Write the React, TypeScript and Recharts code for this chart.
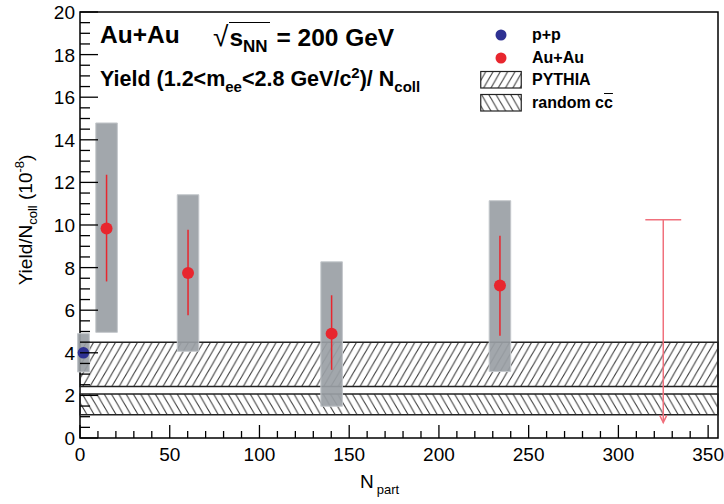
import React from 'react';
import {
  ComposedChart,
  XAxis,
  YAxis,
  Scatter,
  ErrorBar,
  ReferenceArea,
  ReferenceLine,
  ReferenceDot,
  Legend,
} from 'recharts';

const FONT = '"Liberation Sans", Arial, Helvetica, sans-serif';

// ---- data ----
// p+p reference point
const ppNpart = [1.9];
const ppYield = [4.0];
const ppSysLow = [3.1];
const ppSysHigh = [4.9];

// Au+Au centrality bins
const auNpart = [14.8, 60.2, 140.2, 234.0];
const auYield = [9.84, 7.75, 4.9, 7.16];
const auStatLow = [7.35, 5.76, 3.2, 4.8];
const auStatHigh = [12.36, 9.78, 6.7, 9.5];
const auSysLow = [4.96, 4.07, 1.49, 3.12];
const auSysHigh = [14.79, 11.42, 8.27, 11.14];

// upper limit (most central bin)
const ulNpart = [325];
const ulYield = [10.25];
const ulArrowEnd = [0.73];

// expectation bands [low, high]
const pythiaBand = [2.42, 4.49];
const randomBand = [1.09, 2.06];

// axes
const X_MAX = 355.5;
const Y_MAX = 20;
const xMajorTicks = [0, 50, 100, 150, 200, 250, 300, 350];
const yMajorTicks = [0, 2, 4, 6, 8, 10, 12, 14, 16, 18, 20];
const xAllTicks = Array.from({ length: 36 }, (_, i) => i * 10);
const yAllTicks = Array.from({ length: 41 }, (_, i) => i * 0.5);

const legendLabels = ['p+p', 'Au+Au', 'PYTHIA', 'random c'];

// ---- styles ----
const RED = '#e8262e';
const BLUE = '#2e3192';
const GREY = '#9a9fa5';
const UL_RED = '#f0707c';
const SYS_HALF = 6;
const PP_SYS_HALF = 3.3;
const UL_CAP_HALF = 10;

const auData = auNpart.map((x, i) => ({
  x,
  y: auYield[i],
  err: [auYield[i] - auStatLow[i], auStatHigh[i] - auYield[i]],
}));
const arrowData = ulNpart.map((x, i) => ({ x, y: ulArrowEnd[i] }));

const YTick = (props: any) => {
  const { x, y, payload } = props;
  const v = payload.value;
  const major = yMajorTicks.includes(v);
  return (
    <g>
      <line x1={x} x2={x + (major ? 18 : 10)} y1={y} y2={y} stroke="#000" strokeWidth={1.3} />
      {major && (
        <text x={x - 5} y={y + 7} textAnchor="end" fontFamily={FONT} fontSize={19} fill="#000">
          {v}
        </text>
      )}
    </g>
  );
};

const XTick = (props: any) => {
  const { x, y, payload } = props;
  const v = payload.value;
  const major = xMajorTicks.includes(v);
  return (
    <g>
      <line x1={x} x2={x} y1={y} y2={y - (major ? 13 : 7)} stroke="#000" strokeWidth={1.3} />
      {major && (
        <text x={x} y={y + 23} textAnchor="middle" fontFamily={FONT} fontSize={19} fill="#000">
          {v}
        </text>
      )}
    </g>
  );
};

const Dot = (color: string, r: number) => (props: any) => (
  <circle cx={props.cx} cy={props.cy} r={r} fill={color} />
);

const ArrowHead = (props: any) => {
  const { cx, cy } = props;
  return (
    <path
      d={`M${cx - 3.5} ${cy - 7} L${cx} ${cy} L${cx + 3.5} ${cy - 7}`}
      fill="none"
      stroke={UL_RED}
      strokeWidth={1.5}
    />
  );
};

const Patterns = ({ prefix }: { prefix: string }) => (
  <defs>
    <pattern id={`${prefix}fwd`} patternUnits="userSpaceOnUse" width={7.3} height={12.6}>
      <line x1={-7.3} y1={25.2} x2={14.6} y2={-12.6} stroke="#333" strokeWidth={1} />
      <line x1={0} y1={25.2} x2={21.9} y2={-12.6} stroke="#333" strokeWidth={1} />
      <line x1={-14.6} y1={25.2} x2={7.3} y2={-12.6} stroke="#333" strokeWidth={1} />
    </pattern>
    <pattern id={`${prefix}bwd`} patternUnits="userSpaceOnUse" width={7.3} height={12.6}>
      <line x1={-7.3} y1={-12.6} x2={14.6} y2={25.2} stroke="#333" strokeWidth={1} />
      <line x1={0} y1={-12.6} x2={21.9} y2={25.2} stroke="#333" strokeWidth={1} />
      <line x1={-14.6} y1={-12.6} x2={7.3} y2={25.2} stroke="#333" strokeWidth={1} />
    </pattern>
  </defs>
);

const LegendContent = () => {
  const sym = (i: number) => {
    if (i === 0 || i === 1) {
      return (
        <svg width={42} height={22}>
          <circle cx={21} cy={11} r={5.5} fill={i === 0 ? BLUE : RED} />
        </svg>
      );
    }
    return (
      <svg width={42} height={22}>
        <Patterns prefix={`lg${i}`} />
        <rect
          x={0.75}
          y={2.5}
          width={40.5}
          height={16.5}
          fill={`url(#lg${i}${i === 2 ? 'fwd' : 'bwd'})`}
          stroke="#222"
          strokeWidth={1.2}
        />
      </svg>
    );
  };
  return (
    <div style={{ width: 240, fontFamily: FONT, fontWeight: 'bold', fontSize: 16, color: '#000' }}>
      {legendLabels.map((lab, i) => (
        <div key={lab} style={{ display: 'flex', alignItems: 'center', height: 22.5 }}>
          {sym(i)}
          <span style={{ marginLeft: 10, whiteSpace: 'nowrap', lineHeight: 1 }}>
            {lab}
            {i === 3 && <span style={{ textDecoration: 'overline' }}>c</span>}
          </span>
        </div>
      ))}
    </div>
  );
};

export default function App() {
  return (
    <div
      style={{
        position: 'absolute',
        left: 0,
        top: 0,
        width: 724,
        height: 504,
        background: '#fff',
        fontFamily: FONT,
        color: '#000',
      }}
    >
      <ComposedChart width={724} height={504} margin={{ top: 12, right: 6, bottom: 36, left: 20 }}>
        <Patterns prefix="pl" />
        <XAxis
          type="number"
          dataKey="x"
          domain={[0, X_MAX]}
          ticks={xAllTicks}
          interval={0}
          tickSize={0}
          tickMargin={0}
          tickLine={false}
          axisLine={false}
          tick={<XTick />}
          height={30}
        />
        <YAxis
          type="number"
          dataKey="y"
          domain={[0, Y_MAX]}
          ticks={yAllTicks}
          interval={0}
          tickSize={0}
          tickMargin={0}
          tickLine={false}
          axisLine={false}
          tick={<YTick />}
          width={60}
        />
        <ReferenceArea
          x1={0}
          x2={X_MAX}
          y1={0}
          y2={Y_MAX}
          fill="none"
          stroke="#000"
          strokeWidth={1.5}
        />
        <ReferenceArea
          x1={0}
          x2={X_MAX}
          y1={pythiaBand[0]}
          y2={pythiaBand[1]}
          fill="url(#plfwd)"
          fillOpacity={1}
          stroke="#222"
          strokeWidth={1.5}
        />
        <ReferenceArea
          x1={0}
          x2={X_MAX}
          y1={randomBand[0]}
          y2={randomBand[1]}
          fill="url(#plbwd)"
          fillOpacity={1}
          stroke="#222"
          strokeWidth={1.5}
        />
        {ppNpart.map((x, i) => (
          <ReferenceArea
            key={`pps${i}`}
            x1={x - PP_SYS_HALF}
            x2={x + PP_SYS_HALF}
            y1={ppSysLow[i]}
            y2={ppSysHigh[i]}
            ifOverflow="visible"
            fill={GREY}
            fillOpacity={0.92}
            stroke="#c3c7cb"
            strokeWidth={1}
          />
        ))}
        {auNpart.map((x, i) => (
          <ReferenceArea
            key={`aus${i}`}
            x1={x - SYS_HALF}
            x2={x + SYS_HALF}
            y1={auSysLow[i]}
            y2={auSysHigh[i]}
            fill={GREY}
            fillOpacity={0.92}
            stroke="#c3c7cb"
            strokeWidth={1}
          />
        ))}
        {ulNpart.map((x, i) => (
          <ReferenceLine
            key={`ulv${i}`}
            segment={[
              { x, y: ulYield[i] },
              { x, y: ulArrowEnd[i] },
            ]}
            stroke={UL_RED}
            strokeWidth={1.5}
          />
        ))}
        {ulNpart.map((x, i) => (
          <ReferenceLine
            key={`ulc${i}`}
            segment={[
              { x: x - UL_CAP_HALF, y: ulYield[i] },
              { x: x + UL_CAP_HALF, y: ulYield[i] },
            ]}
            stroke={UL_RED}
            strokeWidth={1.5}
          />
        ))}
        <Scatter data={arrowData} shape={ArrowHead} isAnimationActive={false} />
        <Scatter data={auData} shape={Dot(RED, 6)} isAnimationActive={false}>
          <ErrorBar dataKey="err" direction="y" width={0} stroke={RED} strokeWidth={1.5} />
        </Scatter>
        {ppNpart.map((x, i) => (
          <ReferenceDot
            key={`ppd${i}`}
            x={x}
            y={ppYield[i]}
            r={5.8}
            fill={BLUE}
            stroke="none"
            ifOverflow="visible"
            zIndex={1000}
          />
        ))}
        <Legend
          layout="vertical"
          align="center"
          verticalAlign="middle"
          content={<LegendContent />}
          wrapperStyle={{ left: 480, top: 24, width: 240, height: 92 }}
        />
      </ComposedChart>

      {/* annotations */}
      <div
        style={{
          position: 'absolute',
          left: 100,
          top: 23,
          fontSize: 24.5,
          fontWeight: 'bold',
          lineHeight: 1,
          whiteSpace: 'nowrap',
        }}
      >
        Au+Au
      </div>
      <div
        style={{
          position: 'absolute',
          left: 213,
          top: 23,
          fontSize: 24.5,
          fontWeight: 'bold',
          lineHeight: 1,
          whiteSpace: 'nowrap',
        }}
      >
        <span style={{ fontWeight: 'normal', fontSize: 28, marginRight: 1 }}>√</span>
        <span style={{ borderTop: '1.5px solid #000', paddingTop: 1, paddingRight: 2 }}>
          s<span style={{ fontSize: 17, position: 'relative', top: 6 }}>NN</span>
        </span>
        {' = 200 GeV'}
      </div>
      <div
        style={{
          position: 'absolute',
          left: 100,
          top: 69,
          fontSize: 21.5,
          fontWeight: 'bold',
          lineHeight: 1,
          whiteSpace: 'nowrap',
        }}
      >
        Yield (1.2&lt;m
        <span style={{ fontSize: 15, position: 'relative', top: 6 }}>ee</span>
        &lt;2.8 GeV/c
        <span style={{ fontSize: 15, position: 'relative', top: -8 }}>2</span>
        )/ N<span style={{ fontSize: 15, position: 'relative', top: 6 }}>coll</span>
      </div>
      <div
        style={{
          position: 'absolute',
          left: 25,
          top: 220,
          transform: 'translate(-50%, -50%) rotate(-90deg)',
          fontSize: 19,
          lineHeight: 1,
          whiteSpace: 'nowrap',
        }}
      >
        Yield/N<span style={{ fontSize: 13, position: 'relative', top: 5 }}>coll</span> (10
        <span style={{ fontSize: 13, position: 'relative', top: -8 }}>-8</span>)
      </div>
      <div
        style={{
          position: 'absolute',
          left: 360,
          top: 472,
          fontSize: 19,
          lineHeight: 1,
          whiteSpace: 'nowrap',
        }}
      >
        N<span style={{ fontSize: 13, position: 'relative', top: 6, marginLeft: 3 }}>part</span>
      </div>
    </div>
  );
}
